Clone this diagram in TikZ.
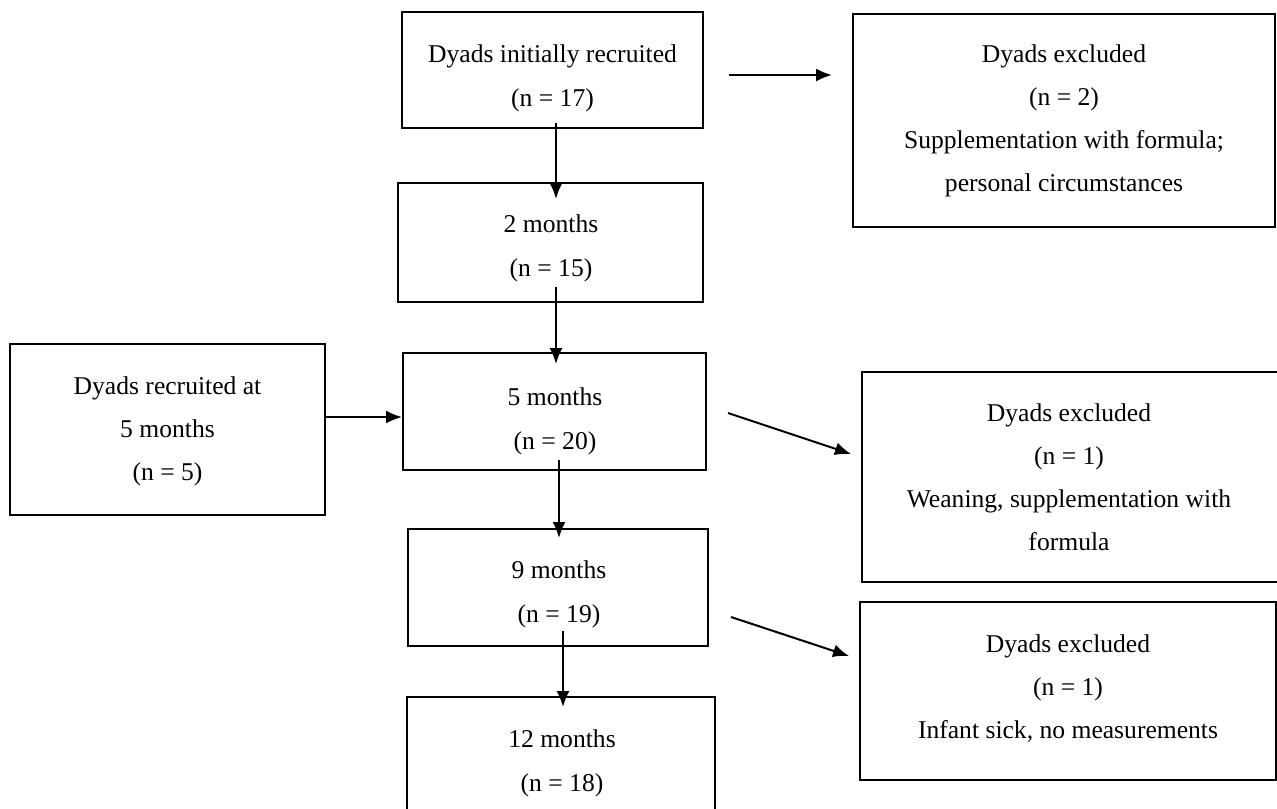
\documentclass[tikz,border=0pt]{standalone}
\usepackage{fontspec}
\setmainfont{Liberation Serif}
\usetikzlibrary{arrows.meta}

\begin{document}
\begin{tikzpicture}[
    x=0.5pt,
    y=-0.5pt,
    >={Latex[length=8pt,width=6.5pt]},
    box/.style={
        draw,
        line width=1pt,
        inner sep=0pt
    },
    textline/.style={
        align=center,
        inner sep=0pt,
        font=\fontsize{12.8}{22}\selectfont
    },
    textsmall/.style={
        textline,
        font=\fontsize{12.8}{21.5}\selectfont
    },
    flow/.style={
        ->,
        line width=1pt
    }
]

\useasboundingbox (0,0) rectangle (1277,808);

% ==================================================
% Main follow-up column
% ==================================================

\node[box, minimum width=150.5pt, minimum height=58pt] (init) at (552.5,70) {};
\node[textline] (init-txt) at (552.5,78)
    {Dyads initially recruited\\(n = 17)};

\node[box, minimum width=152.5pt, minimum height=59.5pt] (m2) at (550.5,242.5) {};
\node[textline] (m2-txt) at (551,248)
    {2 months\\(n = 15)};

\node[box, minimum width=151.5pt, minimum height=58.5pt] (m5) at (554.5,411.5) {};
\node[textline] (m5-txt) at (555,421.5)
    {5 months\\(n = 20)};

\node[box, minimum width=150pt, minimum height=58.5pt] (m9) at (558,587.5) {};
\node[textline] (m9-txt) at (559,594.5)
    {9 months\\(n = 19)};

\node[box, minimum width=154pt, minimum height=66pt] (m12) at (561,763) {};
\node[textline] (m12-txt) at (562,763)
    {12 months\\(n = 18)};

% ==================================================
% Late recruitment
% ==================================================

\node[box, minimum width=157.5pt, minimum height=85.5pt] (late) at (167.5,429.5) {};
\node[textsmall] (late-txt) at (167.5,431.5)
    {Dyads recruited at\\5 months\\(n = 5)};

% ==================================================
% Exclusions
% ==================================================

\node[box, minimum width=211pt, minimum height=106.5pt] (excl1) at (1064,120.5) {};
\node[textsmall] (excl1-txt) at (1064,120.5)
    {Dyads excluded\\(n = 2)\\Supplementation with formula;\\personal circumstances};

\node[box, minimum width=210pt, minimum height=105pt] (excl2) at (1072,477) {};
\node[textsmall] (excl2-txt) at (1069,477)
    {Dyads excluded\\(n = 1)\\Weaning, supplementation with\\formula};

\node[box, minimum width=208pt, minimum height=89pt] (excl3) at (1068,691) {};
\node[textsmall] (excl3-txt) at (1068,688.5)
    {Dyads excluded\\(n = 1)\\Infant sick, no measurements};

% ==================================================
% Arrows
% ==================================================

% Down the main column
\draw[flow] ([shift={(3.5,-6)}]init.south) -- ([shift={(5.5,17)}]m2.north);
\draw[flow] ([shift={(5.5,-16)}]m2.south) -- ([shift={(1.5,12)}]m5.north);
\draw[flow] ([shift={(4.5,-11)}]m5.south) -- ([shift={(1,10)}]m9.north);
\draw[flow] ([shift={(5,-16)}]m9.south) -- ([shift={(2,11)}]m12.north);

% Late recruits join at 5 months
\draw[flow] ([shift={(0,-12.5)}]late.east) -- ([shift={(0,5.5)}]m5.west);

% Exclusions
\draw[flow] ([shift={(25,5)}]init.east) -- ([shift={(-20,-45.5)}]excl1.west);
\draw[flow] ([shift={(21,1.5)}]m5.east) -- ([shift={(-10,-23)}]excl2.west);
\draw[flow] ([shift={(22,29.5)}]m9.east) -- ([shift={(-10,-35)}]excl3.west);

\end{tikzpicture}
\end{document}
